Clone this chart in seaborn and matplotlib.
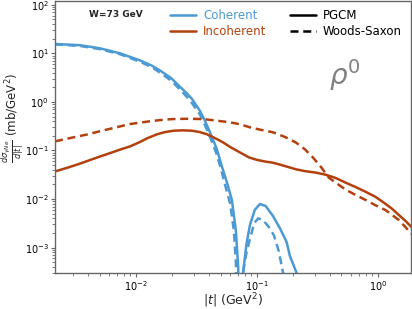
import numpy as np
import pandas as pd
import seaborn as sns
import matplotlib.pyplot as plt
from matplotlib.lines import Line2D

# |t| (GeV^2) and dsigma/d|t| (mb/GeV^2)
coh_pgcm_t = [0.00214, 0.00344, 0.00503, 0.00738, 0.0108, 0.0135, 0.0158, 0.0195, 0.0231, 0.0260,
              0.0290, 0.0338, 0.0370, 0.0409, 0.0464, 0.0514, 0.0568, 0.0621, 0.0670, 0.0700,
              0.0725, 0.0745, 0.0766, 0.0820, 0.0875, 0.0960, 0.106, 0.118, 0.1355, 0.155,
              0.176, 0.187, 0.214, 0.25]
coh_pgcm_y = [15.6, 14.7, 12.7, 10.0, 7.15, 5.6, 4.43, 3.1, 2.05, 1.55,
              1.155, 0.65, 0.42, 0.237, 0.11, 0.0464, 0.021, 0.0095, 0.0022, 0.0004,
              1e-6, 0.00005, 0.00029, 0.0012, 0.0029, 0.0060, 0.0079, 0.0072, 0.0045, 0.0025,
              0.0013, 0.00068, 0.00029, 0.00005]

coh_ws_t = [0.00214, 0.00344, 0.00503, 0.00738, 0.0108, 0.0135, 0.0158, 0.0195, 0.0231, 0.0278,
            0.0338, 0.0370, 0.0409, 0.0460, 0.0500, 0.0550, 0.0601, 0.0645, 0.0670, 0.0690,
            0.0715, 0.0766, 0.0820, 0.0875, 0.095, 0.1025, 0.112, 0.125, 0.138, 0.151, 0.165, 0.186]
coh_ws_y = [15.3, 14.2, 12.2, 9.6, 6.7, 5.2, 4.0, 2.75, 1.8, 1.1,
            0.55, 0.34, 0.19, 0.09, 0.045, 0.018, 0.008, 0.0022, 0.0005, 1e-6,
            0.00004, 0.0003, 0.0008, 0.0015, 0.0032, 0.0040, 0.0037, 0.0027, 0.0018, 0.00087, 0.00029, 0.00005]

inc_pgcm_t = [0.00214, 0.0027, 0.0034, 0.0042, 0.00503, 0.0060, 0.0072, 0.0089, 0.0105, 0.0125,
              0.0149, 0.0175, 0.0205, 0.0245, 0.029, 0.0335, 0.0387, 0.045, 0.0524, 0.060,
              0.0725, 0.0859, 0.100, 0.118, 0.1355, 0.160, 0.185, 0.210, 0.250, 0.307,
              0.372, 0.450, 0.544, 0.660, 0.796, 0.95, 1.10, 1.30, 1.49, 1.70, 1.91]
inc_pgcm_y = [0.037, 0.044, 0.053, 0.064, 0.075, 0.087, 0.102, 0.121, 0.145, 0.180,
              0.215, 0.240, 0.255, 0.260, 0.255, 0.240, 0.215, 0.180, 0.147, 0.118,
              0.091, 0.072, 0.064, 0.059, 0.056, 0.050, 0.045, 0.041, 0.0375, 0.035,
              0.0316, 0.027, 0.0216, 0.0175, 0.014, 0.0112, 0.0087, 0.0064, 0.0047, 0.0035, 0.0026]

inc_ws_t = [0.00214, 0.0030, 0.0040, 0.00503, 0.0065, 0.0089, 0.0131, 0.0170, 0.0202, 0.0270,
            0.0358, 0.045, 0.0598, 0.071, 0.0875, 0.105, 0.1355, 0.170, 0.210, 0.250,
            0.290, 0.340, 0.394, 0.470, 0.544, 0.660, 0.796, 0.95, 1.16, 1.49, 1.91]
inc_ws_y = [0.154, 0.185, 0.215, 0.249, 0.29, 0.35, 0.40, 0.43, 0.443, 0.450,
            0.443, 0.415, 0.38, 0.35, 0.30, 0.27, 0.237, 0.19, 0.146, 0.105,
            0.072, 0.045, 0.0274, 0.020, 0.0155, 0.012, 0.0095, 0.0075, 0.0059, 0.0037, 0.0019]

blue = '#4b9ad3'
orange = '#b3410e'

frames = []
for t, y, comp, model in [(coh_pgcm_t, coh_pgcm_y, 'Coherent', 'PGCM'),
                          (coh_ws_t, coh_ws_y, 'Coherent', 'Woods-Saxon'),
                          (inc_pgcm_t, inc_pgcm_y, 'Incoherent', 'PGCM'),
                          (inc_ws_t, inc_ws_y, 'Incoherent', 'Woods-Saxon')]:
    frames.append(pd.DataFrame({'t': t, 'y': y, 'comp': comp, 'model': model}))
df = pd.concat(frames, ignore_index=True)

sns.set_theme(style="ticks")
plt.rcParams['font.family'] = ['DejaVu Sans']
plt.rcParams['axes.edgecolor'] = '#666666'
plt.rcParams['xtick.color'] = '#666666'
plt.rcParams['ytick.color'] = '#666666'
plt.rcParams['xtick.labelcolor'] = 'black'
plt.rcParams['ytick.labelcolor'] = 'black'

fig = plt.figure(figsize=(4.12, 3.09), dpi=100)
ax = fig.add_axes([0.1335, 0.1165, 0.8635, 0.8805])

sns.lineplot(data=df, x='t', y='y', hue='comp', style='model',
             palette={'Coherent': blue, 'Incoherent': orange},
             dashes={'PGCM': '', 'Woods-Saxon': (3.2, 1.9)},
             sort=False, estimator=None, units='model', lw=1.8, legend=False, ax=ax)

ax.set_xscale('log')
ax.set_yscale('log')
ax.set_xlim(0.00214, 1.87)
ax.set_ylim(3e-4, 120)
ax.tick_params(labelsize=7, length=3, width=0.8, pad=1.5)
ax.tick_params(which='minor', length=2, width=0.6)
for s in ax.spines.values():
    s.set_linewidth(1.0)

ax.set_xlabel(r'$|t|$ (GeV$^2$)', fontsize=9, labelpad=-1)
ax.set_ylabel(r'$\frac{d\sigma_{\gamma Ne}}{d|t|}$ (mb/GeV$^2$)', fontsize=8.5)
ax.yaxis.set_label_coords(-0.082, 0.57)

ax.text(0.095, 0.95, 'W=73 GeV', transform=ax.transAxes, fontsize=6.5,
        fontweight='bold', ha='left', va='center')
ax.text(0.815, 0.728, r'$\rho^0$', transform=ax.transAxes, fontsize=20,
        color='grey', ha='center', va='center')

handles = [Line2D([], [], color=blue, lw=1.8), Line2D([], [], color=orange, lw=1.8),
           Line2D([], [], color='black', lw=1.8), Line2D([], [], color='black', lw=1.8, dashes=(3.2, 1.9))]
labels = ['Coherent', 'Incoherent', 'PGCM', 'Woods-Saxon']
leg = ax.legend(handles, labels, ncol=2, frameon=False, fontsize=8.5,
                loc='upper left', bbox_to_anchor=(0.3, 1.0),
                handlelength=2.2, columnspacing=2.0, handletextpad=0.6,
                labelspacing=0.25, borderaxespad=0.3)
for txt, c in zip(leg.get_texts(), [blue, orange, 'black', 'black']):
    txt.set_color(c)

plt.savefig('out.png', dpi=100)
